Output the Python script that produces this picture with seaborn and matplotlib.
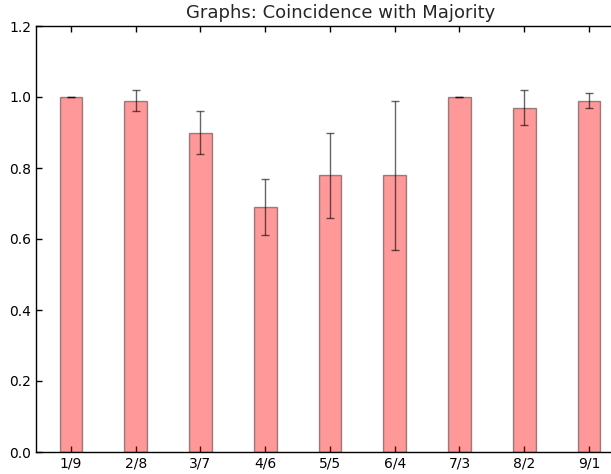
import numpy as np
import pandas as pd
import seaborn as sns
import matplotlib
matplotlib.use("Agg")
import matplotlib.pyplot as plt

# Data
splits = ["1/9", "2/8", "3/7", "4/6", "5/5", "6/4", "7/3", "8/2", "9/1"]
coincidence = [1.00, 0.99, 0.90, 0.69, 0.78, 0.78, 1.00, 0.97, 0.99]
errors = [0.00, 0.03, 0.06, 0.08, 0.12, 0.21, 0.00, 0.05, 0.02]

df = pd.DataFrame({"split": splits, "value": coincidence, "err": errors})

sns.set_style("white")
plt.rcParams['font.family'] = ['DejaVu Sans']

fig = plt.figure(figsize=(6.11, 4.74), dpi=100)
# right edge of the axes sits past the figure edge, like the cropped original
ax = fig.add_axes([36 / 611, 1 - 452 / 474, 610 / 611, 426 / 474])

sns.barplot(data=df, x="split", y="value", color="red", alpha=0.4,
            width=0.35, edgecolor="black", linewidth=1, errorbar=None, ax=ax)
for patch in ax.patches:
    patch.set_edgecolor((0, 0, 0, 0.4))
    patch.set_facecolor((1, 0, 0, 0.4))

ax.errorbar(np.arange(len(splits)), df["value"], yerr=df["err"], fmt="none",
            ecolor="black", alpha=0.6, elinewidth=1, capsize=3, capthick=1)

ax.set_xlim(-0.54, -0.54 + 610 / 64.75)
ax.set_ylim(0, 1.2)
ax.set_yticks([0.0, 0.2, 0.4, 0.6, 0.8, 1.0, 1.2])
ax.set_yticklabels(["0.0", "0.2", "0.4", "0.6", "0.8", "1.0", "1.2"])
ax.set_xlabel("")
ax.set_ylabel("")
ax.set_title("Graphs: Coincidence with Majority", fontsize=13)

ax.tick_params(direction="in", top=True, right=True, bottom=True, left=True,
               length=4, width=1, labelsize=10, colors="black")
for spine in ax.spines.values():
    spine.set_visible(True)
    spine.set_color("black")
    spine.set_linewidth(1)

fig.savefig("out.png", dpi=100)
